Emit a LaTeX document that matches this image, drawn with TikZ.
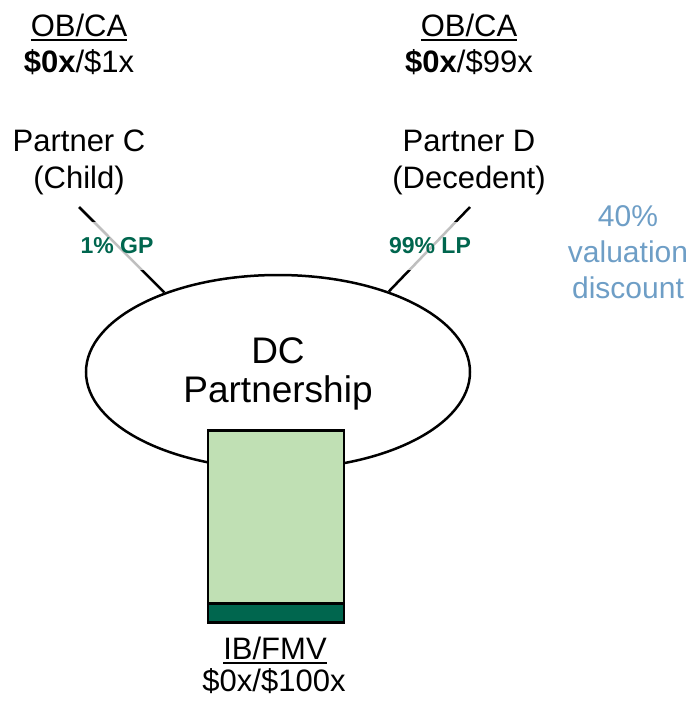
\documentclass[tikz,border=0pt]{standalone}
\usepackage{fontspec}
\setmainfont{Liberation Sans}
\usetikzlibrary{shapes.geometric}
\definecolor{dkgreen}{RGB}{0,102,78}
\definecolor{ltgreen}{RGB}{192,224,180}
\definecolor{steel}{RGB}{110,158,198}
% underline with a heavier rule, set a little below the baseline
\newcommand\thickul[1]{\setbox0\hbox{#1}\rlap{\rule[-4.5pt]{\wd0}{2pt}}\box0}
\begin{document}
\begin{tikzpicture}[x=1pt,y=-1pt,
  txt/.style={font=\fontsize{31}{37}\selectfont, inner sep=0pt, anchor=base},
  bigtxt/.style={font=\fontsize{37}{44}\selectfont, inner sep=0pt, anchor=base},
  note/.style={font=\fontsize{30}{36}\selectfont, inner sep=0pt, anchor=base, text=steel},
  conn/.style={line width=2.5pt},
  pct/.style={font=\fontsize{23}{27}\selectfont\bfseries, text=dkgreen,
    fill=white, fill opacity=0.75, text opacity=1, minimum height=48pt, inner xsep=2pt, inner ysep=0pt},
]
\useasboundingbox (0,0) rectangle (696,704);

% partner C
\node[txt] (obcaC) at (79,36) {\thickul{OB/CA}};
\node[txt] (valC) at (79,72) {\textbf{\$0x}/\$1x};
\node[txt] (nameC) at (79,151) {Partner C};
\node[txt] (roleC) at (79,188) {(Child)};

% partner D
\node[txt] (obcaD) at (469,36) {\thickul{OB/CA}};
\node[txt] (valD) at (469,72) {\textbf{\$0x}/\$99x};
\node[txt] (nameD) at (469,151) {Partner D};
\node[txt] (roleD) at (469,188) {(Decedent)};

% discount note
\node[note] (disc1) at (628,226) {40\%};
\node[note] (disc2) at (628,262) {valuation};
\node[note] (disc3) at (628,298) {discount};

% partnership
\node[draw, ellipse, line width=2.5pt, minimum width=384pt, minimum height=194pt, inner sep=0pt] (dc) at (278,372) {};
\node[bigtxt] (dc1) at (278,363) {DC};
\node[bigtxt] (dc2) at (278,402) {Partnership};

% ownership lines
\coordinate (cTop) at (79,207);
\coordinate (dTop) at (470,207);
\draw[conn] (cTop) -- (dc.145.7);
\draw[conn] (dTop) -- (dc.36.8);
\node[pct] (gp) at (117,246) {1\% GP};
\node[pct] (lp) at (430,246) {99\% LP};

% assets
\node[draw, fill=ltgreen, line width=2.5pt, minimum width=136pt, minimum height=192pt, inner sep=0pt, anchor=north] (asset) at (276,429) {};
\node[draw, fill=dkgreen, line width=2.5pt, minimum width=136pt, minimum height=19pt, inner sep=0pt, anchor=south] (band) at (asset.south) {};

\node[txt] (ib1) at (275,659) {\thickul{IB/FMV}};
\node[txt] (ib2) at (274,691) {\$0x/\$100x};
\end{tikzpicture}
\end{document}
